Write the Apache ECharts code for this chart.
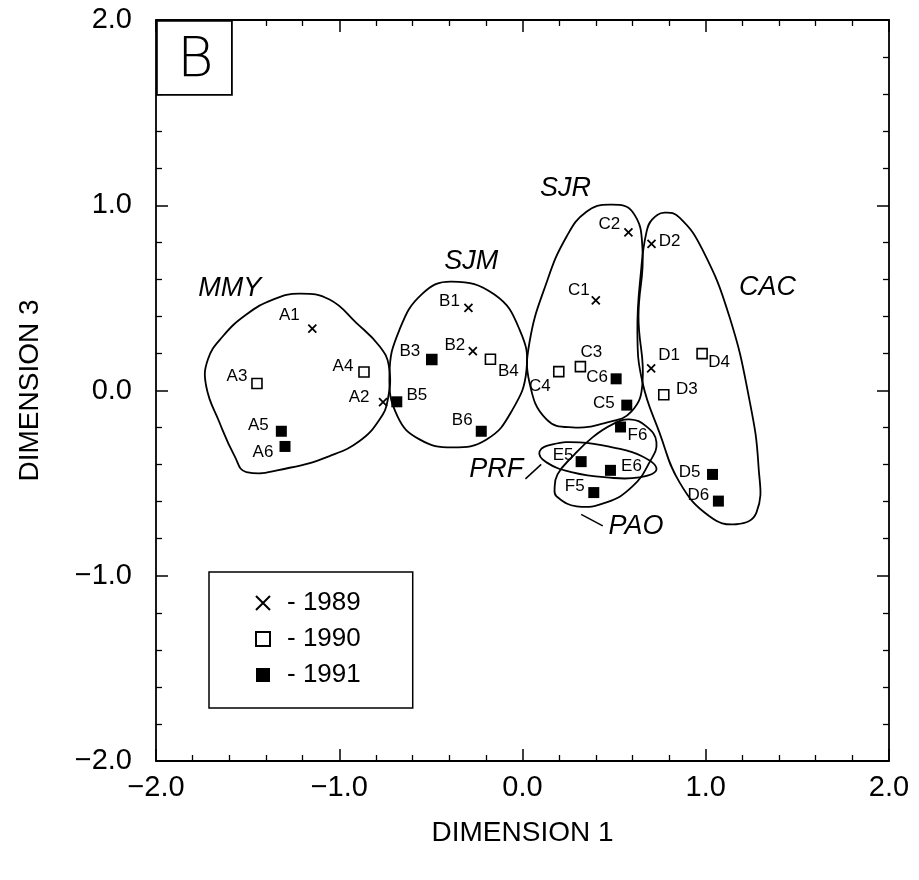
<!DOCTYPE html>
<html>
<head>
<meta charset="utf-8">
<script src="https://cdn.jsdelivr.net/npm/echarts@6/dist/echarts.min.js"></script>
<style>
  html, body { margin: 0; padding: 0; background: #fff; }
  #chart { width: 919px; height: 880px; }
</style>
</head>
<body>
<div id="chart"></div>
<script>
// samples per year (site letter + sample number)
const names1989 = ["A1", "A2", "B1", "B2", "C1", "C2", "D1", "D2"]
const x1989 = [-1.147, -0.761, -0.295, -0.271, 0.400, 0.578, 0.702, 0.704]
const y1989 = [0.334, -0.063, 0.446, 0.212, 0.487, 0.853, 0.119, 0.791]

const names1990 = ["A3", "A4", "B3", "B4", "C3", "C4", "D3", "D4"]
const x1990 = [-1.449, -0.865, -0.495, -0.175, 0.316, 0.198, 0.771, 0.980]
const y1990 = [0.038, 0.100, 0.167, 0.169, 0.129, 0.102, -0.023, 0.199]

const names1991 = ["A5", "A6", "B5", "B6", "C5", "C6", "D5", "D6", "E5", "E6", "F5", "F6"]
const x1991 = [-1.316, -1.296, -0.686, -0.225, 0.569, 0.511, 1.037, 1.069, 0.320, 0.480, 0.389, 0.535]
const y1991 = [-0.220, -0.302, -0.061, -0.220, -0.079, 0.063, -0.453, -0.597, -0.384, -0.431, -0.551, -0.197]

// site groups (hand-drawn envelopes in the original)
const groupNames = ["MMY", "SJM", "SJR", "CAC", "PRF", "PAO"]
const groupX = [-1.598, -0.280, 0.235, 1.337, -0.143, 0.620]
const groupY = [0.553, 0.697, 1.089, 0.555, -0.426, -0.732]

const outlineMMY = [[-1.217, 0.523], [-1.053, 0.491], [-0.907, 0.365], [-0.780, 0.239], [-0.729, 0.131], [-0.735, -0.049], [-0.780, -0.156], [-0.889, -0.273], [-1.053, -0.354], [-1.271, -0.417], [-1.507, -0.440], [-1.571, -0.354], [-1.653, -0.174], [-1.726, 0.023], [-1.717, 0.167], [-1.635, 0.293], [-1.507, 0.410], [-1.362, 0.491]]
const outlineSJM = [[-0.387, 0.588], [-0.153, 0.518], [-0.016, 0.329], [0.022, 0.113], [-0.060, -0.113], [-0.196, -0.264], [-0.382, -0.307], [-0.562, -0.264], [-0.682, -0.140], [-0.726, 0.086], [-0.671, 0.329], [-0.546, 0.523]]
const outlineSJR = [[0.475, 1.003], [0.600, 0.965], [0.655, 0.760], [0.633, 0.399], [0.655, 0.043], [0.595, -0.113], [0.458, -0.173], [0.273, -0.199], [0.131, -0.156], [0.038, 0.043], [0.038, 0.259], [0.131, 0.582], [0.240, 0.830], [0.349, 0.965]]
const outlineCAC = [[0.707, 0.922], [0.775, 0.960], [0.857, 0.933], [0.982, 0.760], [1.129, 0.399], [1.238, -0.049], [1.288, -0.410], [1.277, -0.658], [1.167, -0.722], [1.020, -0.679], [0.857, -0.496], [0.747, -0.226], [0.655, 0.043], [0.627, 0.313], [0.649, 0.668], [0.676, 0.852]]
const outlinePRF = [[0.093, -0.329], [0.164, -0.291], [0.311, -0.280], [0.491, -0.307], [0.655, -0.356], [0.731, -0.426], [0.638, -0.469], [0.458, -0.469], [0.273, -0.442], [0.131, -0.388]]
const outlinePAO = [[0.185, -0.571], [0.295, -0.625], [0.458, -0.604], [0.600, -0.518], [0.693, -0.388], [0.731, -0.280], [0.676, -0.194], [0.584, -0.156], [0.491, -0.183], [0.382, -0.253], [0.273, -0.356], [0.191, -0.453], [0.175, -0.534]]
const leaderPRF = [[0.016, -0.477], [0.102, -0.399]]
const leaderPAO = [[0.320, -0.669], [0.438, -0.731]]

const outlines = [outlineMMY, outlineSJM, outlineSJR, outlineCAC, outlinePRF, outlinePAO]
const leaders = [leaderPRF, leaderPAO]

// where each sample's tag sits relative to its marker (px)
const labelOffset = {
  A1: [-23, -13], A2: [-24, -5], A3: [-20, -7], A4: [-21, -6], A5: [-23, -6], A6: [-22, 6],
  B1: [-19, -7], B2: [-18, -6], B3: [-22, -8], B4: [18, 12], B5: [20, -6], B6: [-19, -11],
  C1: [-17, -10], C2: [-19, -8], C3: [11, -14], C4: [-19, 15], C5: [-23, -2], C6: [-19, -2],
  D1: [18, -13], D2: [18, -3], D3: [23, -5], D4: [17, 9], D5: [-23, -2], D6: [-20, -6],
  E5: [-18, -6], E6: [21, -4], F5: [-19, -6], F6: [17, 8],
}
const drawnFilled = ["B3"] // 1990 sample that is printed as a solid square

const FONT = '"Liberation Sans", Arial, sans-serif'

function points(names, xs, ys) {
  return names.map((n, i) => ({
    name: n,
    value: [xs[i], ys[i]],
    label: { offset: labelOffset[n] },
    itemStyle: drawnFilled.includes(n) ? { color: "#000" } : undefined,
  }))
}

const pointLabel = {
  show: true,
  position: "inside",
  formatter: "{b}",
  fontFamily: FONT,
  fontSize: 17,
  color: "#000",
}

const fmt = (v) => v.toFixed(1).replace("-", "\u2212")

const chart = echarts.init(document.getElementById("chart"), null, { renderer: "canvas" })

const axisCommon = {
  min: -2,
  max: 2,
  interval: 1,
  axisLine: { show: true, onZero: false, lineStyle: { color: "#000", width: 1.8 } },
  axisTick: { show: true, inside: true, length: 12, lineStyle: { color: "#000", width: 1.5 } },
  minorTick: { show: true, splitNumber: 5, length: 6, lineStyle: { color: "#000", width: 1.3 } },
  splitLine: { show: false },
}

chart.setOption({
  animation: false,
  backgroundColor: "#fff",
  grid: { left: 156, right: 30, top: 20, bottom: 119 },
  xAxis: [
    {
      ...axisCommon,
      type: "value",
      position: "bottom",
      name: "DIMENSION 1",
      nameLocation: "middle",
      nameGap: 58,
      nameTextStyle: { fontFamily: FONT, fontSize: 28, color: "#000" },
      axisLabel: { fontFamily: FONT, fontSize: 29, color: "#000", margin: 12, formatter: fmt },
    },
    { ...axisCommon, type: "value", position: "top", axisLabel: { show: false } },
  ],
  yAxis: [
    {
      ...axisCommon,
      type: "value",
      position: "left",
      name: "DIMENSION 3",
      nameLocation: "middle",
      nameGap: 112,
      nameTextStyle: { fontFamily: FONT, fontSize: 28, color: "#000" },
      axisLabel: { fontFamily: FONT, fontSize: 29, color: "#000", margin: 24, formatter: fmt },
    },
    { ...axisCommon, type: "value", position: "right", axisLabel: { show: false } },
  ],
  legend: {
    orient: "vertical",
    left: 209,
    top: 572,
    padding: [18, 52, 20, 46],
    itemGap: 10,
    itemWidth: 14,
    itemHeight: 14,
    borderColor: "#000",
    borderWidth: 1.5,
    formatter: (n) => "- " + n,
    textStyle: { fontFamily: FONT, fontSize: 26, color: "#000", padding: [0, 0, 0, 12] },
    data: ["1989", "1990", "1991"],
  },
  graphic: [
    {
      type: "rect",
      left: 156,
      top: 20,
      shape: { width: 75, height: 74 },
      style: { fill: "#fff", stroke: "#000", lineWidth: 1.8 },
      z: 100,
    },
    {
      type: "text",
      left: 177,
      top: 33,
      style: { text: "B", font: '200 56px "DejaVu Sans", ' + FONT, fill: "#000" },
      z: 101,
    },
  ],
  series: [
    {
      type: "custom",
      silent: true,
      data: outlines.map((o) => o[0]),
      renderItem: (params, api) => ({
        type: "polygon",
        shape: { points: outlines[params.dataIndex].map((p) => api.coord(p)), smooth: 0.45 },
        style: { fill: "none", stroke: "#000", lineWidth: 1.8 },
      }),
    },
    {
      type: "custom",
      silent: true,
      data: leaders.map((l) => l[0]),
      renderItem: (params, api) => {
        const [a, b] = leaders[params.dataIndex].map((p) => api.coord(p))
        return {
          type: "line",
          shape: { x1: a[0], y1: a[1], x2: b[0], y2: b[1] },
          style: { stroke: "#000", lineWidth: 1.5 },
        }
      },
    },
    {
      type: "scatter",
      silent: true,
      symbolSize: 0,
      itemStyle: { opacity: 1 },
      data: groupNames.map((n, i) => ({ name: n, value: [groupX[i], groupY[i]] })),
      label: {
        show: true,
        position: "inside",
        formatter: "{b}",
        fontFamily: FONT,
        fontStyle: "italic",
        fontSize: 27,
        color: "#000",
      },
    },
    {
      name: "1989",
      type: "scatter",
      symbol: "path://M0,0L10,10M10,0L0,10",
      symbolSize: 8,
      itemStyle: { color: "#000", borderColor: "#000", borderWidth: 1.8, opacity: 1 },
      label: pointLabel,
      data: points(names1989, x1989, y1989),
      z: 5,
    },
    {
      name: "1990",
      type: "scatter",
      symbol: "rect",
      symbolSize: 10,
      itemStyle: { color: "#fff", borderColor: "#000", borderWidth: 1.6, opacity: 1 },
      label: pointLabel,
      data: points(names1990, x1990, y1990),
      z: 5,
    },
    {
      name: "1991",
      type: "scatter",
      symbol: "rect",
      symbolSize: 11,
      itemStyle: { color: "#000", opacity: 1 },
      label: pointLabel,
      data: points(names1991, x1991, y1991),
      z: 5,
    },
  ],
})
</script>
</body>
</html>
